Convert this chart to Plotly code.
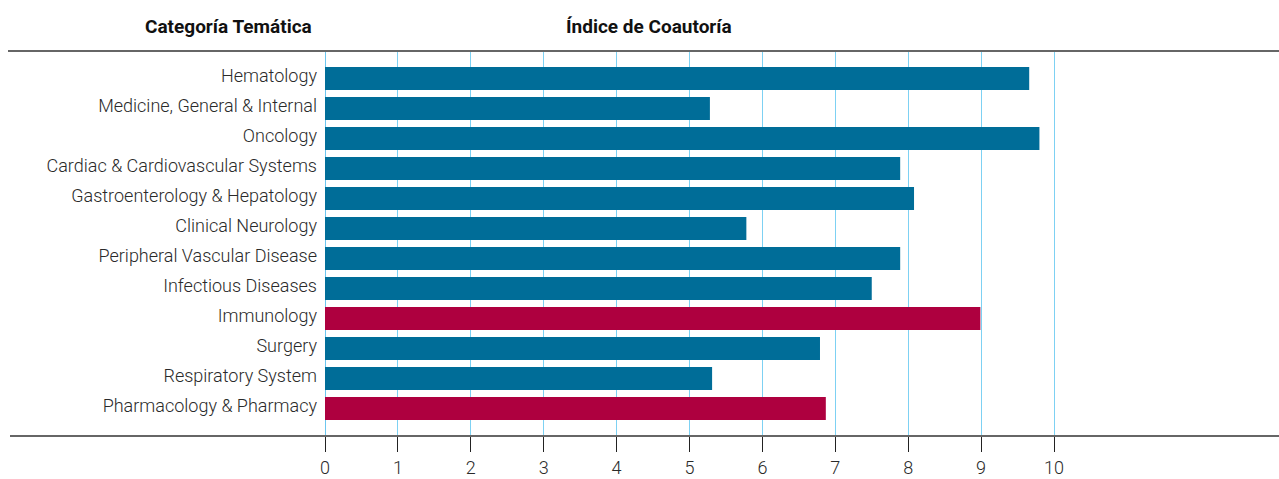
import plotly.graph_objects as go

categories = [
    "Hematology",
    "Medicine, General & Internal",
    "Oncology",
    "Cardiac & Cardiovascular Systems",
    "Gastroenterology & Hepatology",
    "Clinical Neurology",
    "Peripheral Vascular Disease",
    "Infectious Diseases",
    "Immunology",
    "Surgery",
    "Respiratory System",
    "Pharmacology & Pharmacy",
]
values = [9.66, 5.28, 9.80, 7.89, 8.08, 5.78, 7.89, 7.50, 8.99, 6.79, 5.31, 6.87]
highlight = [False, False, False, False, False, False, False, False, True, False, False, True]
tick_values = list(range(0, 11))
tick_labels = [str(v) for v in tick_values]

BLUE = "#006d98"
RED = "#ae003f"
colors = [RED if h else BLUE for h in highlight]

FONT = "Roboto, sans-serif"

W, H = 1279, 479
L, R, T, B = 325, 0, 51, 43
plot_w = W - L - R
px_per_unit = 72.9
x_max = plot_w / px_per_unit

fig = go.Figure(
    go.Bar(
        x=values,
        y=categories,
        orientation="h",
        marker=dict(color=colors, line=dict(width=0)),
        width=0.77,
        hoverinfo="x+y",
    )
)

fig.update_layout(
    width=W,
    height=H,
    margin=dict(l=L, r=R, t=T, b=B, pad=0),
    plot_bgcolor="white",
    paper_bgcolor="white",
    showlegend=False,
    font=dict(family=FONT, color="#2a2a2a", size=18, weight=300),
    xaxis=dict(
        range=[0, x_max],
        tickvals=tick_values,
        ticktext=tick_labels,
        showgrid=True,
        gridcolor="#7dd1f3",
        gridwidth=1,
        zeroline=True,
        zerolinecolor="#6cc6ef",
        zerolinewidth=1,
        showline=False,
        ticks="outside",
        ticklen=15,
        tickwidth=1,
        tickcolor="#222222",
        tickfont=dict(family=FONT, size=18, color="#2a2a2a", weight=300),
        fixedrange=True,
    ),
    yaxis=dict(
        categoryorder="array",
        categoryarray=categories,
        range=[11.917, -0.917],
        showgrid=False,
        zeroline=False,
        showline=False,
        ticks="",
        ticklabelstandoff=7,
        ticklabelshift=3,
        tickfont=dict(family=FONT, size=18, color="#2a2a2a", weight=300),
        fixedrange=True,
    ),
)

# horizontal rules (top and bottom)
x_left_top = (8 - L) / plot_w
x_left_bot = (10 - L) / plot_w
fig.add_shape(type="line", xref="paper", yref="paper", x0=x_left_top, x1=1, y0=1, y1=1,
              line=dict(color="#666666", width=2), layer="above")
fig.add_shape(type="line", xref="paper", yref="paper", x0=x_left_bot, x1=1, y0=0, y1=0,
              line=dict(color="#666666", width=2), layer="above")

# headers
plot_h = H - T - B
def px_to_paper_x(px):
    return (px - L) / plot_w
def px_to_paper_y(py):
    return (H - B - py) / plot_h

fig.add_annotation(text="<b>Categoría Temática</b>", xref="paper", yref="paper",
                   x=px_to_paper_x(228), y=px_to_paper_y(27), showarrow=False,
                   xanchor="center", yanchor="middle",
                   font=dict(family=FONT, size=19, color="#111111", weight=700))
fig.add_annotation(text="<b>Índice de Coautoría</b>", xref="paper", yref="paper",
                   x=px_to_paper_x(649), y=px_to_paper_y(27), showarrow=False,
                   xanchor="center", yanchor="middle",
                   font=dict(family=FONT, size=19, color="#111111", weight=700))

fig.write_html("out.html", config={"displayModeBar": False},
               post_script="document.body.style.margin='0';")
